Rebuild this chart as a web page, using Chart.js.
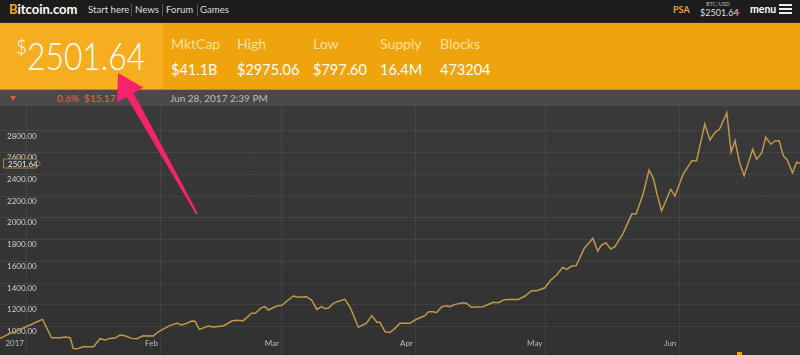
<!DOCTYPE html>
<html><head><meta charset="utf-8">
<script src="https://cdn.jsdelivr.net/npm/chart.js@4.4.0/dist/chart.umd.min.js"></script>
<style>
html,body{margin:0;padding:0;width:800px;height:355px;overflow:hidden;background:#333;font-family:Lato,'Open Sans',sans-serif;}
.a{position:absolute;white-space:nowrap;}
#nav{position:absolute;left:0;top:0;width:800px;height:22px;background:#1c1c1c;border-bottom:1px solid #2b2b2b}
#band{position:absolute;left:0;top:23px;width:800px;height:66px;background:#efa30c;border-bottom:1px solid #c88a0e}
#bigbox{position:absolute;left:0;top:0;width:163px;height:66px;background:#f6ad1f}
#bar{position:absolute;left:0;top:90px;width:800px;height:16px;background:#4a4a4a}
#wrap{position:absolute;left:0;top:106px;width:800px;height:249px;background:linear-gradient(#3a3a3a,#313131)}
.lbl{font-size:14px;line-height:14px;top:14px;color:#fde1a0}
.val{font-size:14.5px;line-height:15px;top:39px;color:#fff;font-weight:400}
.nl{font-size:9.6px;line-height:19px;top:0;color:#dcdcdc}
.sep{position:absolute;top:4px;width:1px;height:12px;background:#555}
.hb{position:absolute;left:779px;width:13px;height:2px;background:#eee}
</style></head>
<body>
<div id="nav">
  <div class="a" style="left:9px;top:0;font-size:13px;line-height:19px;font-weight:700;color:#fff"><span style="color:#f5a61e">B</span>itcoin.com</div>
  <div class="a nl" style="left:88px">Start here</div>
  <div class="sep" style="left:131px"></div>
  <div class="a nl" style="left:135px">News</div>
  <div class="sep" style="left:162px"></div>
  <div class="a nl" style="left:166px">Forum</div>
  <div class="sep" style="left:197px"></div>
  <div class="a nl" style="left:200px">Games</div>
  <div class="a" style="left:673px;top:0;font-size:9px;line-height:19px;font-weight:700;color:#e8a33b">PSA</div>
  <div class="a" style="left:706px;top:1px;font-size:5.5px;line-height:6px;color:#bbb">BTC/USD</div>
  <div class="a" style="left:700px;top:8px;font-size:9px;line-height:10px;color:#ddd">$2501.64</div>
  <div class="a" style="left:736px;top:12px;width:0;height:0;border-left:2.5px solid transparent;border-right:2.5px solid transparent;border-top:3px solid #e0503a"></div>
  <div class="a" style="left:750px;top:0;font-size:10.5px;line-height:18px;font-weight:700;color:#fff">menu</div>
  <div class="hb" style="top:4px"></div><div class="hb" style="top:8px"></div><div class="hb" style="top:12px"></div>
</div>
<div id="band">
  <div id="bigbox"></div>
  <div class="a" style="left:16px;top:14px;font-size:19px;line-height:19px;font-weight:300;color:#fff">$</div>
  <div class="a" style="left:27px;top:14px;font-size:37px;line-height:37px;font-weight:300;color:#fff;transform:scaleX(0.86);transform-origin:left center">2501.64</div>
  <div class="a lbl" style="left:171px">MktCap</div><div class="a val" style="left:171px">$41.1B</div>
  <div class="a lbl" style="left:237px">High</div><div class="a val" style="left:237px">$2975.06</div>
  <div class="a lbl" style="left:313px">Low</div><div class="a val" style="left:313px">$797.60</div>
  <div class="a lbl" style="left:380px">Supply</div><div class="a val" style="left:380px">16.4M</div>
  <div class="a lbl" style="left:440px">Blocks</div><div class="a val" style="left:440px">473204</div>
</div>
<div id="bar">
  <div class="a" style="left:10px;top:6px;width:0;height:0;border-left:3.5px solid transparent;border-right:3.5px solid transparent;border-top:5px solid #e25a2e"></div>
  <div class="a" style="left:57px;top:0;font-size:10px;line-height:16px;color:#ec683a">0.6%&nbsp; $15.17</div>
  <div class="a" style="left:170px;top:0;font-size:10px;line-height:16px;color:#bdbdbd">Jun 28, 2017 2:39 PM</div>
</div>
<div id="wrap"><canvas id="c" width="800" height="249" style="width:800px;height:249px;display:block"></canvas></div>
<div class="a" style="left:737px;top:352px;width:5px;height:3px;background:#f0a30a"></div>
<svg class="a" style="left:0;top:0" width="800" height="355" viewBox="0 0 800 355">
  <polygon fill="#f5226e" points="118,73 143.3,87.5 133.6,93 197.9,213.5 196.1,214.5 126.6,96.8 117.1,102.1"/>
</svg>
<script>
// day offsets from 1 Jan 2017
const days = [-6.25,-3.9,-1.6,0.7,2.3,3.6,5.7,7.6,8.8,10.0,10.7,11.5,13.0,15.4,16.9,18.1,19.2,20.4,21.5,22.7,24.2,25.4,26.9,29.2,30.4,33.1,34.7,35.8,37.0,38.1,38.9,39.9,42.0,43.1,45.4,47.4,48.5,50.1,52.0,52.8,54.3,55.1,55.9,57.8,59.0,61.6,62.8,64.7,65.9,67.1,68.2,69.0,69.8,70.9,72.1,73.6,74.8,76.7,78.6,79.8,81.0,81.7,82.9,84.0,85.2,86.3,88.7,89.8,91.0,92.1,92.9,94.1,94.8,96.0,97.2,97.9,99.1,101.0,101.8,102.9,105.6,107.9,109.1,110.3,111.4,113.7,115.3,116.8,118.0,119.9,121.1,122.6,124.0,124.9,126.1,127.1,129.0,131.0,132.1,133.0,134.0,135.1,136.1,138.0,140.0,141.0,142.6,144.0,145.0,145.8,146.9,149.0,150.0,151.9,153.9,155.0,156.9,158.1,159.3,160.3,162.0,163.0,163.9,164.9,166.0,168.0,168.9,170.1,171.0,172.2,173.2,174.1,175.1,176.0,177.2,178.2,178.94];
const prices = [891,937,974,1014,1044,1066,897,897,903,897,799,793,814,814,888,876,891,894,922,915,891,888,915,912,952,1011,1030,1014,1030,1051,1048,974,1005,995,1005,1051,1057,1054,1122,1122,1174,1183,1152,1189,1195,1281,1269,1275,1244,1158,1183,1164,1170,1213,1232,1250,1177,993,1030,1100,1039,1039,952,946,983,1030,1030,1060,1081,1100,1136,1136,1127,1183,1192,1183,1204,1219,1213,1177,1183,1223,1219,1244,1250,1250,1281,1330,1330,1357,1422,1474,1545,1527,1557,1560,1720,1812,1695,1750,1772,1714,1735,1858,2035,2036,2218,2440,2364,2226,2063,2263,2202,2404,2527,2527,2864,2717,2788,2816,2968,2604,2711,2517,2388,2632,2539,2600,2742,2678,2711,2711,2570,2533,2416,2512,2502];
const monthTicks = [0,31,59,90,120,151];
const monthLabels = ['2017','Feb','Mar','Apr','May','Jun'];
const priceTicks = [1000,1200,1400,1600,1800,2000,2200,2400,2600,2800];
const currentPrice = 2501.64;

function flatten(s){
  s.paddingTop=0;s.paddingBottom=0;s.paddingLeft=0;s.paddingRight=0;
  if(s.isHorizontal()) s.height=0; else s.width=0;
}
const priceTag = {
  id:'priceTag',
  afterDraw(chart){
    const ctx=chart.ctx, y=Math.round(chart.scales.y.getPixelForValue(currentPrice))+0.5;
    ctx.save();
    ctx.beginPath();
    ctx.moveTo(3.5,y-4.5);ctx.lineTo(36,y-4.5);ctx.lineTo(40.5,y);ctx.lineTo(36,y+4.5);ctx.lineTo(3.5,y+4.5);ctx.closePath();
    ctx.fillStyle='#373737';ctx.fill();
    ctx.strokeStyle='#a9853f';ctx.lineWidth=1;ctx.stroke();
    ctx.fillStyle='#e8e8e8';ctx.font='8px Lato';ctx.textBaseline='middle';
    ctx.fillText(currentPrice.toFixed(2),8,y+0.5);
    ctx.restore();
  }
};
function draw(){
  new Chart(document.getElementById('c'),{
    type:'line',
    data:{datasets:[{data:days.map((d,i)=>({x:d,y:prices[i]})),borderColor:'#bf984a',borderWidth:1.5,pointRadius:0,tension:0,fill:false}]},
    options:{
      responsive:false,animation:false,
      layout:{padding:0},
      plugins:{legend:{display:false},tooltip:{enabled:false}},
      scales:{
        x:{type:'linear',min:-6.25,max:178.94,position:'bottom',
          afterBuildTicks:s=>{s.ticks=monthTicks.map(v=>({value:v}));},
          afterFit:flatten,
          grid:{color:'rgba(255,255,255,0.065)',drawTicks:false},
          border:{display:false},
          ticks:{mirror:true,align:'end',labelOffset:-3,padding:7,autoSkip:false,maxRotation:0,color:'#bdbdbd',font:{family:'Lato',size:8},
            callback:(v,i)=>monthLabels[i]}
        },
        y:{min:738,max:3030,position:'left',
          afterBuildTicks:s=>{s.ticks=priceTicks.map(v=>({value:v}));},
          afterFit:flatten,
          grid:{color:'rgba(255,255,255,0.065)',drawTicks:false},
          border:{display:false},
          ticks:{mirror:true,padding:7,labelOffset:5,autoSkip:false,color:'#cfcfcf',font:{family:'Lato',size:8},
            callback:v=>Number(v).toFixed(2)}
        }
      }
    },
    plugins:[priceTag]
  });
}
(document.fonts&&document.fonts.load?Promise.all([document.fonts.load('8px Lato'),document.fonts.load('300 37px Lato')]).catch(()=>{}):Promise.resolve()).then(draw);
</script>
</body></html>
